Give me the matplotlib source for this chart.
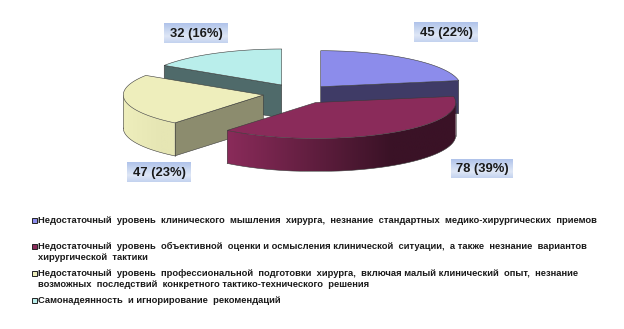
import numpy as np
import matplotlib
matplotlib.use("Agg")
import matplotlib.pyplot as plt
from matplotlib.patches import Polygon, Rectangle
from matplotlib.colors import LinearSegmentedColormap

values = [45, 78, 47, 32]
percents = [22, 39, 23, 16]
top_colors = ["#8c8ceb", "#8a2b5a", "#eeeebc", "#b9eeeb"]
face_colors = ["#3f3b66", "#3a1226", "#8c8c6e", "#4f6a6a"]
rim_left = ["#3f3b66", "#8a2b5a", "#eeeebc", "#b9eeeb"]
rim_right = ["#3f3b66", "#3a1226", "#e6e6b4", "#b9eeeb"]
legend_entries = [
    "Недостаточный  уровень  клинического  мышления  хирурга,  незнание  стандартных  медико-хирургических  приемов",
    "Недостаточный  уровень  объективной  оценки и осмысления клинической  ситуации,  а также  незнание  вариантов\nхирургической  тактики",
    "Недостаточный  уровень  профессиональной  подготовки  хирурга,  включая малый клинический  опыт,  незнание\nвозможных  последствий  конкретного тактико-технического  решения",
    "Самонадеянность  и игнорирование  рекомендаций",
]
centers = [(320.7, 86.7), (315.7, 102.5), (263.3, 95.0), (281.7, 85.0)]
label_boxes = [(414, 22, 64, 20), (451, 159, 62, 19), (127, 162, 64, 20), (164, 23, 64, 20)]
legend_y = [220.5, 246, 273, 300.5]

RX, RY, DEPTH = 140.0, 36.0, 33.0
plt.rcParams["font.family"] = ["Liberation Sans", "DejaVu Sans"]
fig = plt.figure(figsize=(6.24, 3.29), dpi=100)
ax = fig.add_axes([0, 0, 1, 1])
ax.axis("off")

fracs = np.cumsum([0] + values) / sum(values) * 2 * np.pi
EDGE = "#3a3a3a"
FACE_SIDE = {0: "end", 2: "start", 3: "start"}


def pt(c, a, dz=0.0):
    return np.array([c[0] + RX * np.sin(a), c[1] - RY * np.cos(a) + dz])


def draw_slice(i, z):
    c, a0, a1 = centers[i], fracs[i], fracs[i + 1]
    if i in FACE_SIDE:
        a = a1 if FACE_SIDE[i] == "end" else a0
        p = pt(c, a)
        ax.add_patch(Polygon([c, p, p + (0, DEPTH), (c[0], c[1] + DEPTH)], closed=True,
                             fc=face_colors[i], ec=EDGE, lw=0.4, zorder=z))
    lo, hi = max(a0, np.pi / 2), min(a1, 3 * np.pi / 2)
    if hi > lo:
        an = np.linspace(lo, hi, 120)
        upper = np.array([pt(c, a) for a in an])
        lower = upper + (0, DEPTH)
        rim = Polygon(np.vstack([upper, lower[::-1]]), closed=True, fc="none", ec="none",
                      zorder=z)
        ax.add_patch(rim)
        x0, x1 = upper[:, 0].min(), upper[:, 0].max()
        y0, y1 = upper[:, 1].min(), lower[:, 1].max()
        cmap = LinearSegmentedColormap.from_list(
            "r", [(0, rim_left[i]), (0.72, rim_right[i]), (1, rim_right[i])])
        im = ax.imshow(np.linspace(0, 1, 128).reshape(1, -1), extent=(x0, x1, y1, y0),
                       cmap=cmap, aspect="auto", zorder=z, interpolation="bilinear")
        im.set_clip_path(rim)
        ax.plot(lower[:, 0], lower[:, 1], color=EDGE, lw=0.4, zorder=z + 0.1)
        for a in (lo, hi):
            p = pt(c, a)
            ax.plot([p[0], p[0]], [p[1], p[1] + DEPTH], color=EDGE, lw=0.4, zorder=z + 0.1)
    an = np.linspace(a0, a1, 120)
    ax.add_patch(Polygon([c] + [pt(c, a) for a in an], closed=True,
                         fc=top_colors[i], ec=EDGE, lw=0.4, zorder=z + 0.2))


for z, i in enumerate([3, 2, 0, 1]):
    draw_slice(i, z + 1)

grad = LinearSegmentedColormap.from_list(
    "lab", ["#b0c3ea", "#c8d6f0", "#dfe7f6", "#c4d3ef"])
for v, pc, (x, y, w, h) in zip(values, percents, label_boxes):
    ax.imshow(np.linspace(0, 1, 32).reshape(-1, 1), extent=(x, x + w, y + h, y), cmap=grad,
              aspect="auto", zorder=8, interpolation="bilinear")
    ax.text(x + w / 2, y + h / 2 + 0.8, f"{v} ({pc}%)", ha="center", va="center", fontsize=9.4,
            fontweight="bold", color="#1a1a1a", zorder=9)
ax.set_xlim(0, 624)
ax.set_ylim(329, 0)

for txt, y, col in zip(legend_entries, legend_y, top_colors):
    ax.add_patch(Rectangle((31.5, y - 2.5), 5, 5, fc=col, ec="#222222", lw=0.7, zorder=5))
    ax.text(38, y - 4.5, txt, ha="left", va="top", fontsize=6.75, fontweight="bold",
            color="#1a1a1a", linespacing=1.3, zorder=5)

fig.savefig("out.png", dpi=100, facecolor="white")
